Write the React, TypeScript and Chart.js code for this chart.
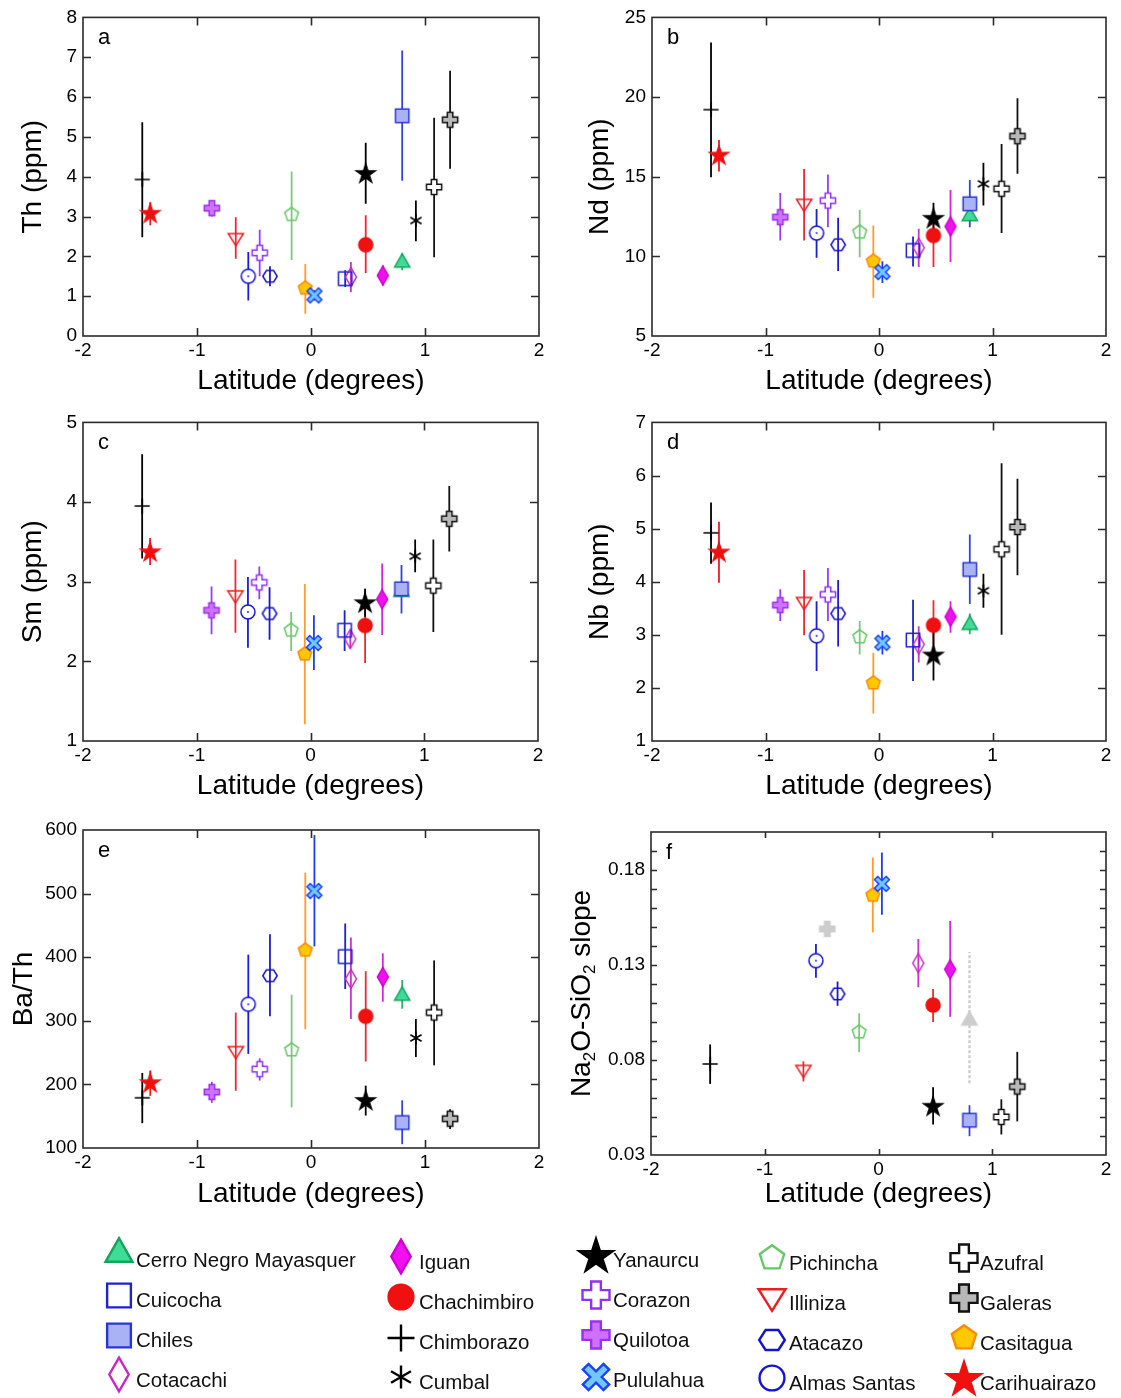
import React, { useEffect, useRef } from 'react';
import { Chart, registerables } from 'chart.js';

Chart.register(...registerables);

const FONT = '"Liberation Sans", Arial, Helvetica, sans-serif';

// ---------------- data ----------------
const VOLCANOES = [
  'Cerro Negro Mayasquer', 'Cuicocha', 'Chiles', 'Cotacachi',
  'Iguan', 'Chachimbiro', 'Chimborazo', 'Cumbal',
  'Yanaurcu', 'Corazon', 'Quilotoa', 'Pululahua',
  'Pichincha', 'Illiniza', 'Atacazo', 'Almas Santas',
  'Azufral', 'Galeras', 'Casitagua', 'Carihuairazo',
];

const LATITUDE = [0.80, 0.30, 0.80, 0.35, 0.63, 0.48, -1.48, 0.92, 0.48, -0.45, -0.87, 0.03, -0.17, -0.66, -0.36, -0.55, 1.08, 1.22, -0.05, -1.41];

const TH = [1.9, 1.44, 5.53, 1.48, 1.52, 2.29, 3.93, 2.9, 4.07, 2.09, 3.21, 1.02, 3.05, 2.42, 1.5, 1.5, 3.74, 5.43, 1.2, 3.07];
const TH_LO = [1.65, 1.23, 3.9, 1.1, 1.27, 1.58, 2.48, 2.38, 3.32, 1.5, 3.0, 0.89, 1.91, 1.94, 1.25, 0.89, 1.98, 4.2, 0.56, 2.78];
const TH_HI = [2.07, 1.65, 7.17, 1.86, 1.77, 3.03, 5.37, 3.4, 4.85, 2.67, 3.4, 1.15, 4.13, 2.98, 1.75, 2.11, 5.48, 6.66, 1.81, 3.36];

const ND = [12.67, 10.37, 13.3, 10.54, 11.88, 11.31, 19.21, 14.55, 12.36, 13.5, 12.46, 9.01, 11.52, 13.2, 10.73, 11.46, 14.24, 17.54, 9.7, 16.33];
const ND_LO = [12.25, 9.37, 11.83, 9.33, 9.64, 9.33, 14.97, 13.19, 11.2, 11.83, 11.0, 8.32, 9.95, 11.0, 9.08, 9.91, 11.46, 15.18, 7.4, 15.32];
const ND_HI = [13.09, 11.25, 14.8, 11.73, 14.17, 12.04, 23.43, 15.87, 13.36, 15.14, 13.97, 9.7, 12.92, 15.49, 12.42, 12.98, 17.06, 19.92, 11.94, 17.31];

const SM = [2.9, 2.39, 2.91, 2.28, 2.78, 2.45, 3.95, 3.32, 2.73, 2.99, 2.64, 2.23, 2.39, 2.81, 2.6, 2.62, 2.95, 3.79, 2.09, 3.37];
const SM_LO = [2.85, 2.13, 2.6, 2.16, 2.33, 1.98, 3.29, 3.12, 2.56, 2.78, 2.34, 1.89, 2.13, 2.36, 2.27, 2.17, 2.37, 3.38, 1.21, 3.21];
const SM_HI = [2.95, 2.64, 3.21, 2.39, 3.23, 2.91, 4.6, 3.53, 2.91, 3.19, 2.94, 2.58, 2.62, 3.28, 2.93, 3.06, 3.53, 4.2, 2.97, 3.55];

const NB = [3.23, 2.9, 4.23, 2.82, 3.34, 3.18, 4.92, 3.83, 2.61, 3.76, 3.56, 2.85, 2.96, 3.59, 3.4, 2.98, 4.61, 5.03, 2.09, 4.55];
const NB_LO = [3.01, 2.13, 3.58, 2.48, 3.04, 2.82, 4.34, 3.51, 2.14, 3.26, 3.26, 2.63, 2.63, 2.99, 2.78, 2.32, 3.0, 4.12, 1.52, 3.98];
const NB_HI = [3.4, 3.66, 4.89, 3.16, 3.63, 3.65, 5.49, 4.15, 3.19, 4.26, 3.86, 3.07, 3.26, 4.22, 4.03, 3.63, 6.23, 5.94, 2.66, 5.13];

const BA_TH = [343, 401, 140, 366, 369, 307, 179, 273, 174, 224, 188, 504, 254, 250, 371, 326, 313, 146, 411, 202];
const BA_TH_LO = [319, 350, 106, 303, 330, 236, 139, 243, 151, 206, 171, 417, 164, 190, 307, 248, 230, 130, 287, 182];
const BA_TH_HI = [364, 453, 175, 431, 406, 378, 218, 303, 198, 241, 204, 592, 341, 313, 436, 404, 395, 161, 533, 222];

const NA2O_SLOPE = [0.102, null, 0.0483, 0.131, 0.1277, 0.1089, 0.0779, null, 0.0554, 0.149, null, 0.1727, 0.0947, 0.074, 0.1148, 0.1323, 0.05, 0.066, 0.1667, null];
const NA2O_SLOPE_LO = [0.0678, null, 0.0399, 0.1183, 0.1027, 0.1, 0.0674, null, 0.046, 0.146, null, 0.1564, 0.0841, 0.0687, 0.1085, 0.1233, 0.0408, 0.0477, 0.1472, null];
const NA2O_SLOPE_HI = [0.1369, null, 0.0562, 0.1437, 0.1532, 0.1174, 0.0882, null, 0.0656, 0.152, null, 0.1892, 0.1046, 0.0793, 0.1213, 0.141, 0.0593, 0.0843, 0.1866, null];

// grayed (uncertain) entries in panel f
const SLOPE_GRAYED = ['Cerro Negro Mayasquer', 'Corazon'];

// ticks
const X_TICKS = [-2, -1, 0, 1, 2];
const TH_TICKS = [0, 1, 2, 3, 4, 5, 6, 7, 8];
const ND_TICKS = [5, 10, 15, 20, 25];
const SM_TICKS = [1, 2, 3, 4, 5];
const NB_TICKS = [1, 2, 3, 4, 5, 6, 7];
const BA_TH_TICKS = [100, 200, 300, 400, 500, 600];
const SLOPE_TICKS = [0.03, 0.08, 0.13, 0.18];
const SLOPE_MINOR_TICKS = [0.03, 0.04, 0.05, 0.06, 0.07, 0.08, 0.09, 0.10, 0.11, 0.12, 0.13, 0.14, 0.15, 0.16, 0.17, 0.18, 0.19];

const X_TITLE = 'Latitude (degrees)';
const SLOPE_TITLE_PARTS = [
  { t: 'Na', sub: false }, { t: '2', sub: true }, { t: 'O-SiO', sub: false }, { t: '2', sub: true }, { t: ' slope', sub: false },
];

// ---------------- styles ----------------
const MARKER_STYLES: Record<string, any> = {
  'Cerro Negro Mayasquer': { shape: 'triUp', fill: '#3fdc95', stroke: '#12a65c', bar: '#22b86a' },
  'Cuicocha': { shape: 'square', fill: null, stroke: '#1c22cc', bar: '#1c22cc' },
  'Chiles': { shape: 'square', fill: '#aab2f6', stroke: '#2a36d4', bar: '#3444dd' },
  'Cotacachi': { shape: 'diamond', fill: null, stroke: '#c826c8', bar: '#cc33cc' },
  'Iguan': { shape: 'diamond', fill: '#f010f0', stroke: '#d000d0', bar: '#dd22dd' },
  'Chachimbiro': { shape: 'circle', fill: '#f01010', stroke: '#f01010', bar: '#ee2a2a' },
  'Chimborazo': { shape: 'plus', fill: null, stroke: '#000000', bar: '#000000' },
  'Cumbal': { shape: 'asterisk', fill: null, stroke: '#000000', bar: '#000000' },
  'Yanaurcu': { shape: 'star', fill: '#000000', stroke: '#000000', bar: '#000000' },
  'Corazon': { shape: 'cross', fill: '#ffffff', stroke: '#9030f8', bar: '#9a3cff' },
  'Quilotoa': { shape: 'cross', fill: '#d070ff', stroke: '#9a30f0', bar: '#9a3cff' },
  'Pululahua': { shape: 'xcross', fill: '#70c8ff', stroke: '#1a40ff', bar: '#1a40ee' },
  'Pichincha': { shape: 'pentagon', fill: null, stroke: '#66c866', bar: '#77cc77' },
  'Illiniza': { shape: 'triDown', fill: null, stroke: '#ee1c1c', bar: '#ee2a2a' },
  'Atacazo': { shape: 'hexagon', fill: null, stroke: '#1414c8', bar: '#1c1ccc' },
  'Almas Santas': { shape: 'circle', fill: null, stroke: '#1414d8', bar: '#1c1cdd', dot: true },
  'Azufral': { shape: 'cross', fill: '#ffffff', stroke: '#111111', bar: '#111111' },
  'Galeras': { shape: 'cross', fill: '#b8b8b8', stroke: '#111111', bar: '#111111' },
  'Casitagua': { shape: 'pentagon', fill: '#ffc800', stroke: '#ff8a00', bar: '#ff9a30' },
  'Carihuairazo': { shape: 'star', fill: '#f01010', stroke: '#f01010', bar: '#ee1a1a' },
};
const GRAY_STYLE = { fill: '#cdcdcd', stroke: '#cdcdcd', bar: '#cdcdcd', dash: [3, 2] };

function tracePath(ctx: CanvasRenderingContext2D, shape: string, r: number) {
  ctx.beginPath();
  if (shape === 'circle') {
    ctx.arc(0, 0, r * 0.92, 0, Math.PI * 2);
    return;
  }
  let pts: number[][] = [];
  if (shape === 'square') {
    const h = r * 0.88;
    pts = [[-h, -h], [h, -h], [h, h], [-h, h]];
  } else if (shape === 'diamond') {
    const w = r * 0.72, h = r * 1.25;
    pts = [[0, -h], [w, 0], [0, h], [-w, 0]];
  } else if (shape === 'triUp') {
    const h = r * 0.875;
    pts = [[0, -h], [r, h], [-r, h]];
  } else if (shape === 'triDown') {
    const h = r * 0.8;
    pts = [[0, h], [r, -h], [-r, -h]];
  } else if (shape === 'star') {
    const R = r * 1.3, q = R * 0.382;
    for (let k = 0; k < 10; k++) {
      const a = -Math.PI / 2 + (k * Math.PI) / 5;
      const rr = k % 2 ? q : R;
      pts.push([rr * Math.cos(a), rr * Math.sin(a)]);
    }
  } else if (shape === 'cross' || shape === 'xcross') {
    const e = shape === 'cross' ? r : r * 1.08;
    const a = shape === 'cross' ? r * 0.36 : r * 0.3;
    pts = [[-a, -e], [a, -e], [a, -a], [e, -a], [e, a], [a, a], [a, e], [-a, e], [-a, a], [-e, a], [-e, -a], [-a, -a]];
    if (shape === 'xcross') {
      const c = Math.SQRT1_2;
      pts = pts.map(([x, y]) => [x * c - y * c, x * c + y * c]);
    }
  } else if (shape === 'pentagon') {
    const R = r * 0.95;
    for (let k = 0; k < 5; k++) {
      const a = -Math.PI / 2 + (k * 2 * Math.PI) / 5;
      pts.push([R * Math.cos(a), R * Math.sin(a)]);
    }
  } else if (shape === 'hexagon') {
    const R = r * 0.95;
    for (let k = 0; k < 6; k++) {
      const a = (k * Math.PI) / 3;
      pts.push([R * Math.cos(a), R * Math.sin(a) * 0.9]);
    }
  }
  pts.forEach((p, k) => (k ? ctx.lineTo(p[0], p[1]) : ctx.moveTo(p[0], p[1])));
  ctx.closePath();
}

function drawMarker(ctx: CanvasRenderingContext2D, style: any, cx: number, cy: number, r: number, lw: number, inChart: boolean) {
  ctx.save();
  ctx.translate(cx, cy);
  ctx.lineJoin = 'miter';
  ctx.lineWidth = lw;
  ctx.strokeStyle = style.stroke;
  if (style.shape === 'plus') {
    ctx.beginPath();
    ctx.moveTo(-r, 0); ctx.lineTo(r, 0);
    ctx.moveTo(0, -r); ctx.lineTo(0, r);
    ctx.stroke();
  } else if (style.shape === 'asterisk') {
    const L = r * 0.85;
    ctx.beginPath();
    [90, 30, 150].forEach((deg) => {
      const a = (deg * Math.PI) / 180;
      ctx.moveTo(-L * Math.cos(a), -L * Math.sin(a));
      ctx.lineTo(L * Math.cos(a), L * Math.sin(a));
    });
    ctx.stroke();
  } else {
    tracePath(ctx, style.shape, r);
    if (inChart && style.dot) {
      ctx.fillStyle = '#ffffff';
      ctx.fill();
    }
    if (style.fill) {
      ctx.fillStyle = style.fill;
      ctx.fill();
    }
    ctx.stroke();
    if (inChart && style.dot) {
      ctx.beginPath();
      ctx.arc(0, 0, 0.9, 0, Math.PI * 2);
      ctx.fillStyle = style.stroke;
      ctx.fill();
    }
  }
  ctx.restore();
}

function makeMarkerImage(style: any, r: number, lw: number) {
  const half = Math.ceil(r * 1.5 + lw + 1);
  const c = document.createElement('canvas');
  c.width = half * 2;
  c.height = half * 2;
  const ctx = c.getContext('2d')!;
  drawMarker(ctx, style, half, half, r, lw, true);
  return c;
}

// ---------------- layout ----------------
const TITLE_SIZE = 28;
const TICK_SIZE = 19;
const HALF_TITLE_LINE = (TITLE_SIZE * 1.2) / 2;
const MARKER_R = 7.6;
const MARKER_LW = 1.5;

const PANELS = [
  { letter: 'a', x: 0, y: 0, w: 560, h: 405, area: { l: 83, r: 539, t: 17, b: 336 }, values: TH, lo: TH_LO, hi: TH_HI, yMin: 0, yMax: 8, yTicks: TH_TICKS, yMinor: null, yTitle: 'Th (ppm)', yTitleCx: 33, xTitleCy: 381, tickLen: 8 },
  { letter: 'b', x: 560, y: 0, w: 561, h: 405, area: { l: 92, r: 546, t: 17, b: 336 }, values: ND, lo: ND_LO, hi: ND_HI, yMin: 5, yMax: 25, yTicks: ND_TICKS, yMinor: null, yTitle: 'Nd (ppm)', yTitleCx: 40, xTitleCy: 381, tickLen: 8 },
  { letter: 'c', x: 0, y: 405, w: 560, h: 405, area: { l: 83, r: 538, t: 17, b: 336 }, values: SM, lo: SM_LO, hi: SM_HI, yMin: 1, yMax: 5, yTicks: SM_TICKS, yMinor: null, yTitle: 'Sm (ppm)', yTitleCx: 33, xTitleCy: 381, tickLen: 8 },
  { letter: 'd', x: 560, y: 405, w: 561, h: 405, area: { l: 92, r: 546, t: 17, b: 336 }, values: NB, lo: NB_LO, hi: NB_HI, yMin: 1, yMax: 7, yTicks: NB_TICKS, yMinor: null, yTitle: 'Nb (ppm)', yTitleCx: 40, xTitleCy: 381, tickLen: 8 },
  { letter: 'e', x: 0, y: 810, w: 560, h: 410, area: { l: 83, r: 539, t: 20, b: 338 }, values: BA_TH, lo: BA_TH_LO, hi: BA_TH_HI, yMin: 100, yMax: 600, yTicks: BA_TH_TICKS, yMinor: null, yTitle: 'Ba/Th', yTitleCx: 24, xTitleCy: 384, tickLen: 8 },
  { letter: 'f', x: 560, y: 810, w: 561, h: 410, area: { l: 91, r: 546, t: 22, b: 345 }, values: NA2O_SLOPE, lo: NA2O_SLOPE_LO, hi: NA2O_SLOPE_HI, yMin: 0.03, yMax: 0.2, yTicks: SLOPE_TICKS, yMinor: SLOPE_MINOR_TICKS, yTitle: null, yTitleParts: SLOPE_TITLE_PARTS, yTitleCx: 22, xTitleCy: 384, tickLen: 6, grayed: SLOPE_GRAYED },
];

const errorBarPlugin = {
  id: 'errorBars',
  beforeDatasetsDraw(chart: any) {
    const { ctx, chartArea, scales } = chart;
    const xs = scales.x, ys = scales.y;
    ctx.save();
    ctx.beginPath();
    ctx.rect(chartArea.left, chartArea.top, chartArea.right - chartArea.left, chartArea.bottom - chartArea.top);
    ctx.clip();
    chart.data.datasets.forEach((ds: any) => {
      const e = ds.errorBar;
      if (!e) return;
      const px = xs.getPixelForValue(e.x);
      ctx.strokeStyle = e.color;
      ctx.lineWidth = e.dash ? 2.4 : 1.8;
      ctx.setLineDash(e.dash || []);
      ctx.beginPath();
      ctx.moveTo(px, ys.getPixelForValue(e.lo));
      ctx.lineTo(px, ys.getPixelForValue(e.hi));
      ctx.stroke();
    });
    ctx.restore();
  },
};

function makeFramePlugin(cfg: any) {
  return {
    id: 'frame',
    afterDatasetsDraw(chart: any) {
      const { ctx, chartArea, scales } = chart;
      const { left, right, top, bottom } = chartArea;
      const xs = scales.x, ys = scales.y;
      const len = cfg.tickLen;
      ctx.save();
      ctx.strokeStyle = '#2b2b2b';
      ctx.lineWidth = 1.6;
      ctx.setLineDash([]);
      ctx.beginPath();
      X_TICKS.forEach((v) => {
        if (v <= xs.min || v >= xs.max) return;
        const px = Math.round(xs.getPixelForValue(v)) + 0.5;
        ctx.moveTo(px, bottom); ctx.lineTo(px, bottom - len);
        ctx.moveTo(px, top); ctx.lineTo(px, top + len);
      });
      (cfg.yMinor || cfg.yTicks).forEach((v: number) => {
        if (v <= ys.min + 1e-9 || v >= ys.max - 1e-9) return;
        const py = Math.round(ys.getPixelForValue(v)) + 0.5;
        ctx.moveTo(left, py); ctx.lineTo(left + len, py);
        ctx.moveTo(right, py); ctx.lineTo(right - len, py);
      });
      ctx.stroke();
      ctx.strokeRect(left, top, right - left, bottom - top);
      ctx.fillStyle = '#000';
      ctx.font = `22px ${FONT}`;
      ctx.textBaseline = 'alphabetic';
      ctx.textAlign = 'left';
      ctx.fillText(cfg.letter, left + 15, top + 27);
      ctx.restore();
    },
    afterDraw(chart: any) {
      if (!cfg.yTitleParts) return;
      const { ctx, chartArea } = chart;
      const cy = (chartArea.top + chartArea.bottom) / 2;
      const big = `${TITLE_SIZE}px ${FONT}`;
      const small = `${Math.round(TITLE_SIZE * 0.62)}px ${FONT}`;
      ctx.save();
      ctx.translate(cfg.yTitleCx, cy);
      ctx.rotate(-Math.PI / 2);
      ctx.textBaseline = 'middle';
      ctx.textAlign = 'left';
      ctx.fillStyle = '#000';
      let total = 0;
      cfg.yTitleParts.forEach((p: any) => {
        ctx.font = p.sub ? small : big;
        total += ctx.measureText(p.t).width;
      });
      let x = -total / 2;
      cfg.yTitleParts.forEach((p: any) => {
        ctx.font = p.sub ? small : big;
        ctx.fillText(p.t, x, p.sub ? TITLE_SIZE * 0.3 : 0);
        x += ctx.measureText(p.t).width;
      });
      ctx.restore();
    },
  };
}

function buildConfig(cfg: any) {
  const datasets = VOLCANOES.map((name, i) => {
    const v = cfg.values[i];
    const base = MARKER_STYLES[name];
    const style = cfg.grayed && cfg.grayed.includes(name) ? { ...base, ...GRAY_STYLE } : base;
    return {
      label: name,
      data: v == null ? [] : [{ x: LATITUDE[i], y: v }],
      pointStyle: makeMarkerImage(style, MARKER_R, MARKER_LW),
      pointRadius: 6,
      order: name === 'Chiles' ? -1 : i,
      errorBar: v == null ? null : { x: LATITUDE[i], lo: cfg.lo[i], hi: cfg.hi[i], color: style.bar, dash: style.dash },
    };
  });
  const tickFont = { family: FONT, size: TICK_SIZE };
  const titleFont = { family: FONT, size: TITLE_SIZE };
  return {
    type: 'scatter',
    data: { datasets },
    options: {
      animation: false,
      responsive: false,
      maintainAspectRatio: false,
      events: [],
      layout: { padding: { left: 0, top: cfg.area.t, right: cfg.w - cfg.area.r, bottom: 0 } },
      plugins: { legend: { display: false }, tooltip: { enabled: false } },
      scales: {
        x: {
          type: 'linear',
          position: 'bottom',
          min: -2,
          max: 2,
          afterBuildTicks: (s: any) => { s.ticks = X_TICKS.map((v) => ({ value: v })); },
          afterFit: (s: any) => { s.height = cfg.h - cfg.area.b; },
          grid: { display: false, drawTicks: false },
          border: { display: false },
          ticks: { font: tickFont, color: '#000', padding: 3, autoSkip: false, maxRotation: 0, callback: (v: any) => String(v) },
          title: { display: true, text: X_TITLE, font: titleFont, color: '#000', padding: { top: 0, bottom: cfg.h - cfg.xTitleCy - HALF_TITLE_LINE } },
        },
        y: {
          type: 'linear',
          position: 'left',
          min: cfg.yMin,
          max: cfg.yMax,
          afterBuildTicks: (s: any) => { s.ticks = cfg.yTicks.map((v: number) => ({ value: v })); },
          afterFit: (s: any) => { s.width = cfg.area.l; },
          grid: { display: false, drawTicks: false },
          border: { display: false },
          ticks: { font: tickFont, color: '#000', padding: 6, autoSkip: false, callback: (v: any) => String(v) },
          title: { display: !!cfg.yTitle, text: cfg.yTitle || '', font: titleFont, color: '#000', padding: { top: cfg.yTitleCx - HALF_TITLE_LINE, bottom: 0 } },
        },
      },
    },
    plugins: [errorBarPlugin, makeFramePlugin(cfg)],
  };
}

function Panel({ cfg }: { cfg: any }) {
  const ref = useRef<HTMLCanvasElement>(null);
  useEffect(() => {
    if (!ref.current) return;
    const chart = new Chart(ref.current, buildConfig(cfg) as any);
    return () => chart.destroy();
  }, [cfg]);
  return (
    <canvas
      ref={ref}
      width={cfg.w}
      height={cfg.h}
      style={{ position: 'absolute', left: cfg.x, top: cfg.y, width: cfg.w, height: cfg.h }}
    />
  );
}

// ---------------- legend ----------------
const LEGEND_TOP = 1222;
const LEGEND_MARKER_X = [119, 401, 596, 772, 964];
const LEGEND_TEXT_X = [136, 419, 613, 789, 980];
const LEGEND_ROW_Y = [1260, 1300, 1340, 1380];
const LEGEND_COL_DY = [0, 2, 0, 3, 3];
const LEGEND_LIFT: Record<string, number> = {
  triUp: 10, square: 4.5, diamond: 5.5, circle: 5, plus: 4, asterisk: 5, star: 3.5,
  cross: 5, xcross: 3, pentagon: 5, triDown: 3, hexagon: 3,
};

function Legend() {
  const ref = useRef<HTMLCanvasElement>(null);
  useEffect(() => {
    const c = ref.current;
    if (!c) return;
    const ctx = c.getContext('2d')!;
    ctx.clearRect(0, 0, c.width, c.height);
    VOLCANOES.forEach((name, i) => {
      const col = Math.floor(i / 4), row = i % 4;
      const ty = LEGEND_ROW_Y[row] + LEGEND_COL_DY[col];
      const style = MARKER_STYLES[name];
      drawMarker(ctx, style, LEGEND_MARKER_X[col], ty - LEGEND_LIFT[style.shape] - LEGEND_TOP, 13.5, 2.4, false);
    });
  }, []);
  return (
    <>
      <canvas ref={ref} width={1121} height={176} style={{ position: 'absolute', left: 0, top: LEGEND_TOP, width: 1121, height: 176 }} />
      {VOLCANOES.map((name, i) => {
        const col = Math.floor(i / 4), row = i % 4;
        const ty = LEGEND_ROW_Y[row] + LEGEND_COL_DY[col];
        return (
          <div
            key={name}
            style={{
              position: 'absolute', left: LEGEND_TEXT_X[col], top: ty, transform: 'translateY(-50%)',
              fontFamily: FONT, fontSize: '20.5px', lineHeight: '24px', color: '#111', whiteSpace: 'nowrap',
            }}
          >
            {name}
          </div>
        );
      })}
    </>
  );
}

export default function App() {
  return (
    <div style={{ position: 'absolute', left: 0, top: 0, width: 1121, height: 1398, background: '#fff', overflow: 'hidden' }}>
      {PANELS.map((p) => (
        <Panel key={p.letter} cfg={p} />
      ))}
      <Legend />
    </div>
  );
}
